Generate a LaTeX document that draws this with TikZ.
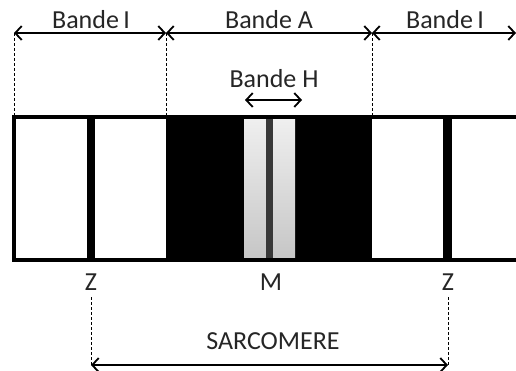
\documentclass[tikz,border=0pt]{standalone}
\usepackage{fontspec}
\setmainfont{Carlito}
\usetikzlibrary{arrows.meta}
\begin{document}
\begin{tikzpicture}[x=1pt,y=-1pt,
  lbl/.style={font=\fontsize{26}{30}\selectfont, text=black!85, inner sep=0pt, anchor=base},
  dim/.style={line width=1.8pt, {Straight Barb[length=6.5pt,width=14pt]}-{Straight Barb[length=6.5pt,width=14pt]}},
  guide/.style={dash pattern=on 3pt off 2pt, line width=0.9pt},
  zband/.style={fill=black, draw=none},
  outline/.style={line width=4pt, line cap=rect}]
\useasboundingbox (0,0) rectangle (516,370);
\fill[white] (0,0) rectangle (516,370);
% coordinates
\coordinate (a0) at (14,33);
\coordinate (a1) at (166,33);
\coordinate (a2) at (372,33);
\coordinate (a3) at (516,33);
\coordinate (b0) at (14,117);
\coordinate (b1) at (166,117);
\coordinate (b2) at (372,117);
\coordinate (h0) at (245,100);
\coordinate (h1) at (302,100);
\coordinate (z1t) at (91,297);
\coordinate (z2t) at (448,297);
\coordinate (s0) at (91,365);
\coordinate (s1) at (448,365);
% bands
\fill[black] (166,117) rectangle (372,260);
\shade[top color=gray!12, bottom color=gray!45] (244,117) rectangle (295,260);
\fill[black!78] (266,117) rectangle (273,260);
\fill[zband] (87,117) rectangle (95,260);
\fill[zband] (443,117) rectangle (452,260);
% outline
\draw[outline] (516,117) -- (14,117) -- (14,260) -- (516,260);
% guides
\draw[guide] (a0) -- (b0);
\draw[guide] (a1) -- (b1);
\draw[guide] (a2) -- (b2);
\draw[guide] (z1t) -- (s0);
\draw[guide] (z2t) -- (s1);
% dimension arrows
\draw[dim] (a0) -- (a1);
\draw[dim] (a1) -- (a2);
\draw[dim] (a2) -- (a3);
\draw[dim] (h0) -- (h1);
\draw[dim] (s0) -- (s1);
% labels
\node[lbl] (li1) at (91,28) {Bande\,I};
\node[lbl] (la) at (269,28) {Bande A};
\node[lbl] (li2) at (445,28) {Bande\,I};
\node[lbl] (lh) at (274,87) {Bande H};
\node[lbl] (z1) at (91,290) {Z};
\node[lbl] (m) at (271,290) {M};
\node[lbl] (z2) at (448,290) {Z};
\node[lbl] (sar) at (273,349) {SARCOMERE};
\end{tikzpicture}
\end{document}
